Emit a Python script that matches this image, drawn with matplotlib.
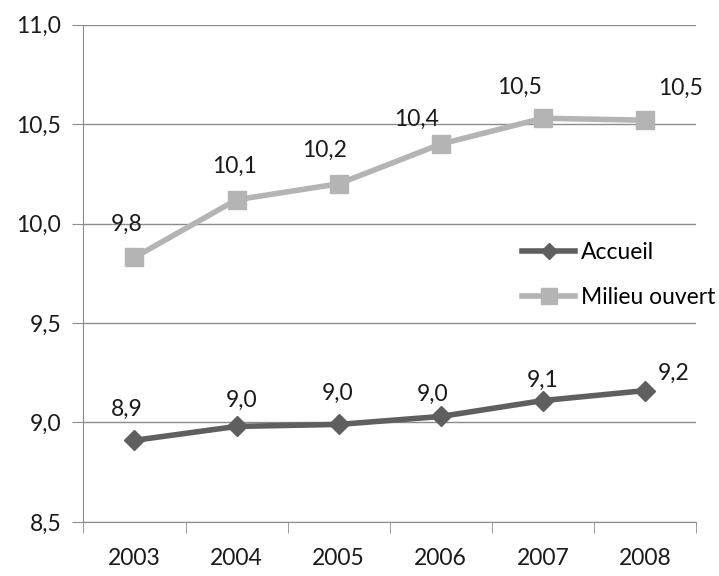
import matplotlib.pyplot as plt

plt.rcParams['font.family'] = ['Lato', 'DejaVu Sans']

years = ['2003', '2004', '2005', '2006', '2007', '2008']
accueil = [8.91, 8.98, 8.99, 9.03, 9.11, 9.16]
milieu_ouvert = [9.83, 10.12, 10.20, 10.40, 10.53, 10.52]

# label offsets in pixels (dx, dy) relative to each point
acc_off = [(-8, 31), (5, 26), (-1, 31), (-8, 22), (0, 20), (29, 17)]
mil_off = [(-8, 33), (-2, 33), (-14, 33), (-24, 25), (-23, 31), (36, 32)]

fig, ax = plt.subplots(figsize=(7.19, 5.76), dpi=100)
fig.subplots_adjust(left=0.116, right=0.968, top=0.957, bottom=0.094)

FS = 16.5
x = range(len(years))
ax.plot(x, accueil, color='#5f5f5f', lw=4, marker='D', ms=10,
        label='Accueil', zorder=3)
ax.plot(x, milieu_ouvert, color='#b4b4b4', lw=4, marker='s', ms=13,
        label='Milieu ouvert', zorder=3)

for i, v in enumerate(accueil):
    ax.annotate(f'{v:.1f}'.replace('.', ','), (i, v), xytext=acc_off[i],
                textcoords='offset pixels', ha='center', va='center',
                fontsize=FS, color='#1a1a1a')
for i, v in enumerate(milieu_ouvert):
    ax.annotate(f'{v:.1f}'.replace('.', ','), (i, v), xytext=mil_off[i],
                textcoords='offset pixels', ha='center', va='center',
                fontsize=FS, color='#1a1a1a')

ax.set_xlim(-0.5, len(years) - 0.5)
ax.set_ylim(8.5, 11.0)
yt = [8.5, 9.0, 9.5, 10.0, 10.5, 11.0]
ax.set_yticks(yt)
ax.set_yticklabels([f'{t:.1f}'.replace('.', ',') for t in yt])
ax.set_xticks(list(x))
ax.set_xticklabels(years)
ax.set_xticks([i - 0.5 for i in range(len(years) + 1)], minor=True)

ax.grid(axis='y', color='#8c8c8c', lw=1)
ax.set_axisbelow(True)
for s in ['top', 'right']:
    ax.spines[s].set_visible(False)
for s in ['left', 'bottom']:
    ax.spines[s].set_color('#8c8c8c')

ax.tick_params(axis='y', length=8, color='#8c8c8c', labelsize=FS,
               labelcolor='#1a1a1a', pad=8)
ax.tick_params(axis='x', which='major', length=0, labelsize=FS,
               labelcolor='#1a1a1a', pad=19)
ax.tick_params(axis='x', which='minor', length=8, color='#8c8c8c')

ax.legend(loc='center left', bbox_to_anchor=(0.683, 0.496), frameon=False,
          fontsize=FS, handlelength=2.3, handletextpad=0.25,
          labelspacing=1.05, markerscale=0.85)

fig.savefig('out.png')
